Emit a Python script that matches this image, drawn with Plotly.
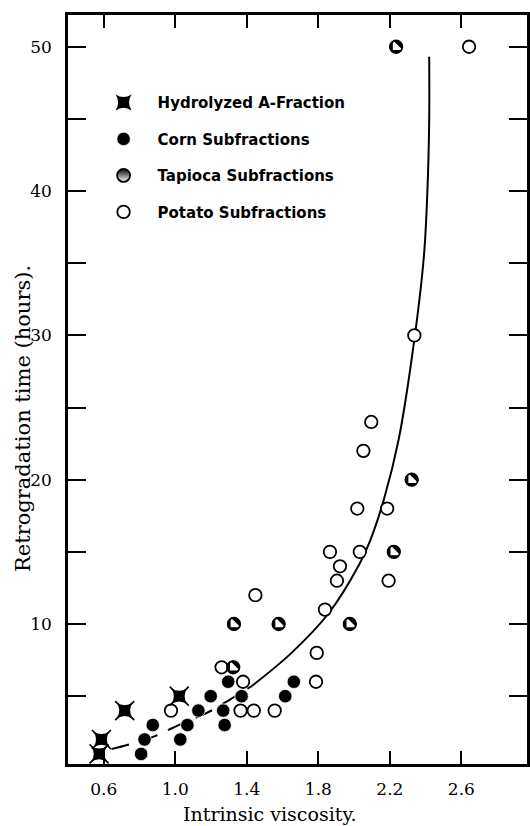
import plotly.graph_objects as go

# ---------------- data ----------------
hydro_x = [0.574, 0.587, 0.717, 1.022]
hydro_y = [1, 2, 4, 5]

corn_x = [0.809, 0.828, 0.874, 1.028, 1.068, 1.129, 1.198, 1.268, 1.276, 1.296, 1.371, 1.615, 1.663]
corn_y = [1, 2, 3, 2, 3, 4, 5, 4, 3, 6, 5, 5, 6]

tapioca_x = [1.328, 1.578, 1.976, 1.324, 2.222, 2.322, 2.235]
tapioca_y = [10, 10, 10, 7, 15, 20, 50]

potato_x = [0.976, 1.259, 1.379, 1.365, 1.439, 1.556, 1.791, 1.787, 1.837, 1.448,
            1.904, 1.921, 1.865, 2.032, 2.193, 2.018, 2.185, 2.052, 2.096, 2.337, 2.643]
potato_y = [4, 7, 6, 4, 4, 4, 8, 6, 11, 12,
            13, 14, 15, 15, 13, 18, 18, 22, 24, 30, 50]

curve_x = [0.643, 0.78, 0.89, 0.99, 1.20, 1.31, 1.43, 1.65, 1.86, 2.03, 2.09,
           2.17, 2.25, 2.33, 2.39, 2.41, 2.42, 2.42]
curve_y = [1.33, 1.79, 2.25, 2.83, 3.99, 4.8, 5.72, 8.0, 10.78, 14.16, 15.78,
           18.78, 22.83, 29.08, 35.43, 40.0, 44.9, 49.3]
curve_split = 6  # lower (dashed) part ends at this index

x_tickvals = [0.6, 1.0, 1.4, 1.8, 2.2, 2.6]
x_ticktext = ["0.6", "1.0", "1.4", "1.8", "2.2", "2.6"]
y_tickvals = [5, 10, 15, 20, 25, 30, 35, 40, 45, 50]
y_ticktext = ["", "10", "", "20", "", "30", "", "40", "", "50"]

names = ["Hydrolyzed A-Fraction", "Corn Subfractions", "Tapioca Subfractions", "Potato Subfractions"]
x_title = "Intrinsic viscosity."
y_title = "Retrogradation time (hours)."

# ---------------- figure ----------------
fig = go.Figure()

# fitted curve (dashed lower part, solid upper part)
fig.add_trace(go.Scatter(x=curve_x[:curve_split + 1], y=curve_y[:curve_split + 1], mode="lines",
                         line=dict(color="black", width=2, dash="18px,12px", shape="spline"),
                         showlegend=False, hoverinfo="skip"))
fig.add_trace(go.Scatter(x=curve_x[curve_split:], y=curve_y[curve_split:], mode="lines",
                         line=dict(color="black", width=2, shape="spline", smoothing=1.0),
                         showlegend=False, hoverinfo="skip"))

# potato: open circles
fig.add_trace(go.Scatter(x=potato_x, y=potato_y, mode="markers", name=names[3],
                         legendgroup="p", legendrank=4,
                         marker=dict(symbol="circle", size=12.5, color="white",
                                     line=dict(color="black", width=1.8))))

# corn: filled circles
fig.add_trace(go.Scatter(x=corn_x, y=corn_y, mode="markers", name=names[1],
                         legendgroup="c", legendrank=2,
                         marker=dict(symbol="circle", size=13.5, color="black",
                                     line=dict(color="white", width=0.8))))

# tapioca: half-filled circles (composite)
fig.add_trace(go.Scatter(x=tapioca_x, y=tapioca_y, mode="markers", showlegend=False,
                         legendgroup="t", hoverinfo="skip",
                         marker=dict(symbol="circle", size=12.5, color="black",
                                     line=dict(color="black", width=1))))
fig.add_trace(go.Scatter(x=tapioca_x, y=tapioca_y, mode="markers", showlegend=False,
                         legendgroup="t", hoverinfo="skip",
                         marker=dict(symbol="triangle-sw", size=11, color="white",
                                     line=dict(width=0))))
fig.add_trace(go.Scatter(x=tapioca_x, y=tapioca_y, mode="markers", showlegend=False,
                         legendgroup="t",
                         marker=dict(symbol="circle-open", size=12.5, color="black",
                                     line=dict(color="black", width=1.8))))
# legend entry for tapioca
fig.add_trace(go.Scatter(x=[None], y=[None], mode="markers", name=names[2],
                         legendgroup="t", legendrank=3,
                         marker=dict(symbol="circle", size=13, color="black",
                                     gradient=dict(type="vertical", color="white"),
                                     line=dict(color="black", width=1.8))))

# hydrolyzed A-fraction: filled square with diagonal spikes
fig.add_trace(go.Scatter(x=hydro_x, y=hydro_y, mode="markers", showlegend=False,
                         legendgroup="h", hoverinfo="skip",
                         marker=dict(symbol="x-thin-open", size=19, color="black",
                                     line=dict(color="black", width=1.6))))
fig.add_trace(go.Scatter(x=hydro_x, y=hydro_y, mode="markers", name=names[0],
                         legendgroup="h", legendrank=1,
                         marker=dict(symbol="star-square", size=14.5, color="black",
                                     line=dict(width=0))))

axis_common = dict(
    showgrid=False, zeroline=False, showline=True, linecolor="black", linewidth=2.5,
    ticks="inside", tickcolor="black", tickwidth=1.5, mirror="ticks",
    tickfont=dict(family="DejaVu Serif", size=17, color="black"),
)

fig.update_layout(
    width=530, height=826,
    margin=dict(l=68, r=0, t=15, b=62),
    paper_bgcolor="white", plot_bgcolor="white",
    xaxis=dict(range=[0.4, 2.967], tickvals=x_tickvals, ticktext=x_ticktext,
               ticklen=13, ticklabelstandoff=8, **axis_common),
    yaxis=dict(range=[0.3, 52.2], tickvals=y_tickvals, ticktext=y_ticktext,
               ticklen=18, ticklabelstandoff=10, **axis_common),
    legend=dict(x=0.047, y=0.905, xanchor="left", yanchor="top",
                bgcolor="rgba(0,0,0,0)", borderwidth=0,
                itemwidth=58, tracegroupgap=14,
                font=dict(family="DejaVu Sans", size=15, color="black", weight="bold")),
    annotations=[
        dict(text=x_title, xref="paper", yref="paper", x=0.439, y=-0.0665,
             xanchor="center", yanchor="middle", showarrow=False,
             font=dict(family="DejaVu Serif", size=19, color="black")),
        dict(text=y_title, xref="paper", yref="paper", x=-0.0996, y=0.461,
             xanchor="center", yanchor="middle", textangle=-90, showarrow=False,
             font=dict(family="DejaVu Serif", size=21, color="black")),
    ],
)

fig.write_html("out.html")
